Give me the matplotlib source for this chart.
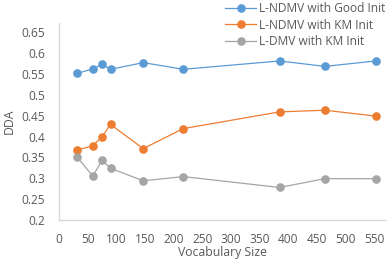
import matplotlib
matplotlib.use('Agg')
import matplotlib.pyplot as plt

# data
vocab = [31, 59, 75, 90, 147, 217, 385, 464, 553]
good_init = [0.551, 0.562, 0.573, 0.561, 0.577, 0.561, 0.581, 0.568, 0.581]
km_init = [0.367, 0.378, 0.399, 0.429, 0.371, 0.419, 0.459, 0.463, 0.449]
dmv_km = [0.352, 0.305, 0.343, 0.324, 0.294, 0.304, 0.278, 0.299, 0.299]

labels = ['L-NDMV with Good Init', 'L-NDMV with KM Init', 'L-DMV with KM Init']
colors = ['#5B9BD5', '#ED7D31', '#A5A5A5']
xticks = [0, 50, 100, 150, 200, 250, 300, 350, 400, 450, 500, 550]
yticks = [0.2, 0.25, 0.3, 0.35, 0.4, 0.45, 0.5, 0.55, 0.6, 0.65]
ytick_labels = ['0.2', '0.25', '0.3', '0.35', '0.4', '0.45', '0.5', '0.55', '0.6', '0.65']

plt.rcParams['font.family'] = ['Open Sans', 'DejaVu Sans']
text_color = '#595959'

fig = plt.figure(figsize=(3.92, 2.61), dpi=100)
ax = fig.add_axes([0.1505, 0.157, 0.8315, 0.755])

for y, lab, c in zip([good_init, km_init, dmv_km], labels, colors):
    ax.plot(vocab, y, color=c, linewidth=0.9, marker='o', markersize=5.2, label=lab)

ax.set_xlim(0, 569)
ax.set_ylim(0.2, 0.672)
ax.set_xticks(xticks)
ax.set_yticks(yticks)
ax.set_yticklabels(ytick_labels)
ax.tick_params(length=0, labelsize=8.6, colors=text_color)
ax.tick_params(axis='y', pad=10)
ax.tick_params(axis='x', pad=9)

for side in ['top', 'right']:
    ax.spines[side].set_visible(False)
for side in ['left', 'bottom']:
    ax.spines[side].set_color('#D9D9D9')
    ax.spines[side].set_linewidth(1)

ax.set_xlabel('Vocabulary Size', fontsize=8.8, color=text_color, labelpad=0)
ax.set_ylabel('DDA', fontsize=8.8, color=text_color, labelpad=4)

leg = fig.legend(loc='upper right', bbox_to_anchor=(1.0, 1.02), frameon=False,
                 fontsize=8.6, handlelength=2.6, handletextpad=0.2, labelspacing=0.3,
                 borderaxespad=0.2)
for t in leg.get_texts():
    t.set_color(text_color)

fig.savefig('out.png', dpi=100)
